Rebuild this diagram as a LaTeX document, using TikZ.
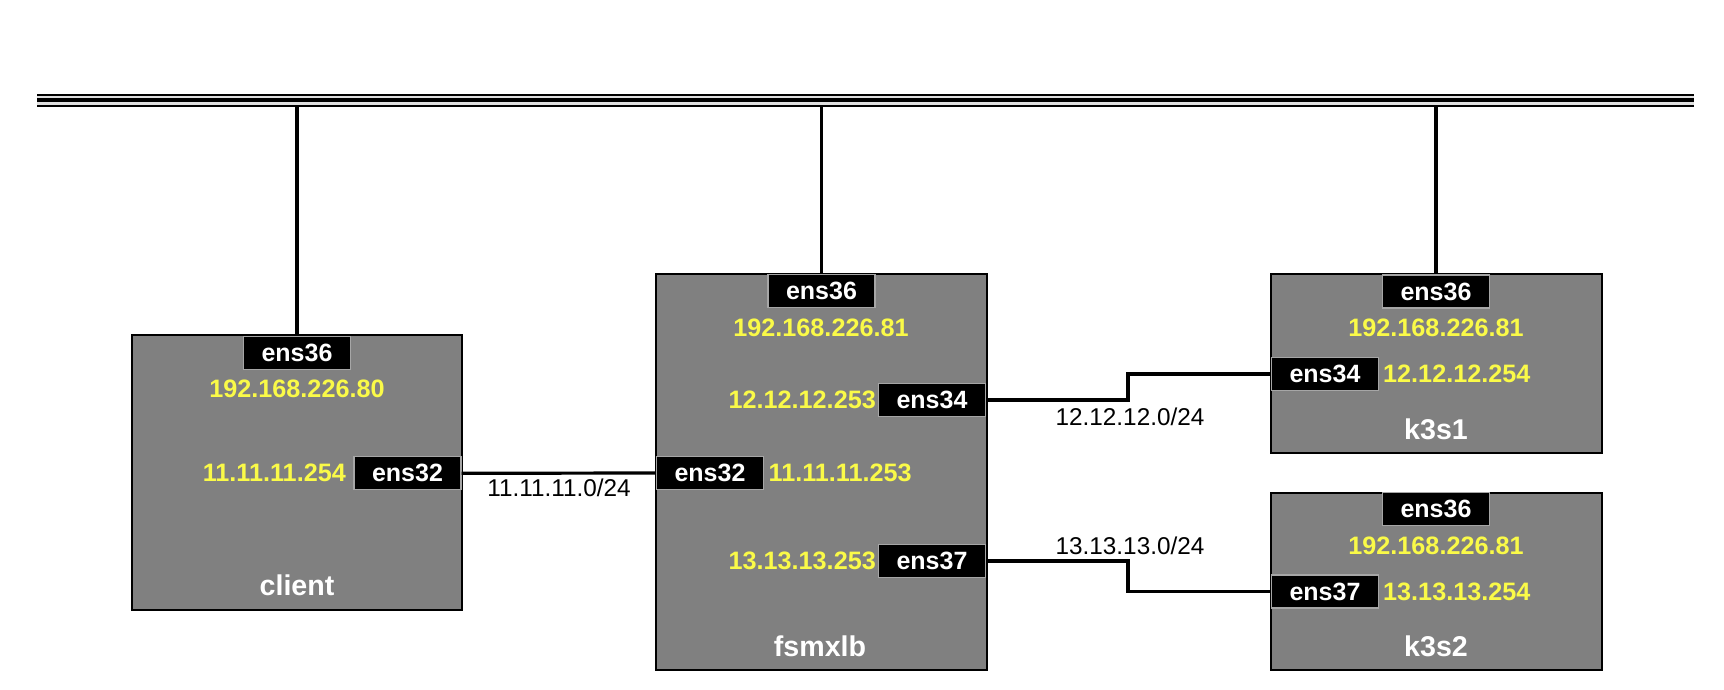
\documentclass[tikz,border=0pt]{standalone}
\usepackage{fontspec}
\setmainfont{Liberation Sans}
\begin{document}
\begin{tikzpicture}[x=1pt,y=-1pt,
  hostbox/.style={draw=black,line width=2pt,fill=hostgray,inner sep=0pt},
  iface/.style={fill=black,draw=gray!70,line width=1.2pt,text=white,inner sep=0pt,minimum width=107pt,minimum height=33pt,font=\fontsize{25}{28}\selectfont\bfseries},
  ip/.style={text=ipyellow,inner sep=0pt,font=\fontsize{25.2}{28}\selectfont\bfseries},
  hostname/.style={text=white,inner sep=0pt,font=\fontsize{28.6}{31}\selectfont\bfseries},
  subnet/.style={text=black,inner sep=0pt,font=\fontsize{24.3}{27}\selectfont},
  wire/.style={draw=black,line width=3.2pt},
  drop/.style={draw=black,line width=3.8pt}]
\definecolor{hostgray}{RGB}{128,128,128}
\definecolor{ipyellow}{RGB}{250,250,72}
\useasboundingbox (0,0) rectangle (1724,690);
% bus
\fill[gray!25] (37,93.7) rectangle (1694,106.7);
\draw[black,line width=2pt] (37,94.7) -- (1694,94.7);
\draw[black,line width=4.6pt] (37,100.2) -- (1694,100.2);
\draw[black,line width=2pt] (37,105.7) -- (1694,105.7);
\coordinate (busC) at (297,106);
\coordinate (busF) at (821.5,106);
\coordinate (busK) at (1436,106);
% hosts
\node[hostbox,minimum width=330pt,minimum height=274.5pt] (client) at (297,472.3) {};
\node[hostbox,minimum width=330.5pt,minimum height=395.5pt] (fsmxlb) at (821.25,471.75) {};
\node[hostbox,minimum width=331pt,minimum height=179pt] (k3s1) at (1436.5,363.5) {};
\node[hostbox,minimum width=331pt,minimum height=177pt] (k3s2) at (1436.5,581.1) {};
% client
\node[iface] (c36) at (297,353) {ens36};
\node[ip] (cip1) at (297,389) {192.168.226.80};
\node[iface] (c32) at (407.5,473.3) {ens32};
\node[ip,anchor=east] (cip2) at (346,473.3) {11.11.11.254};
\node[hostname] (cname) at (297,585) {client};
% fsmxlb
\node[iface] (f36) at (821.5,291.3) {ens36};
\node[ip] (fip1) at (821,328.3) {192.168.226.81};
\node[iface] (f34) at (932,400) {ens34};
\node[ip,anchor=east] (fip2) at (876,399.5) {12.12.12.253};
\node[iface] (f32) at (710,473) {ens32};
\node[ip,anchor=west] (fip3) at (768.5,473) {11.11.11.253};
\node[iface] (f37) at (932,561) {ens37};
\node[ip,anchor=east] (fip4) at (876,560.5) {13.13.13.253};
\node[hostname] (fname) at (820,646.7) {fsmxlb};
% k3s1
\node[iface] (k136) at (1436,291.5) {ens36};
\node[ip] (k1ip1) at (1436,327.6) {192.168.226.81};
\node[iface] (k134) at (1325,374) {ens34};
\node[ip,anchor=west] (k1ip2) at (1383,374) {12.12.12.254};
\node[hostname] (k1name) at (1436,429) {k3s1};
% k3s2
\node[iface] (k236) at (1436,509) {ens36};
\node[ip] (k2ip1) at (1436,545.4) {192.168.226.81};
\node[iface] (k237) at (1325,591.5) {ens37};
\node[ip,anchor=west] (k2ip2) at (1383,591.5) {13.13.13.254};
\node[hostname] (k2name) at (1436,646.5) {k3s2};
% drops
\draw[drop] (busC) -- (c36.north);
\draw[drop] (busF) -- (f36.north);
\draw[drop] (busK) -- (k136.north);
% links
\coordinate (mid) at (1128,0);
\draw[wire] (c32.east) -- (f32.west);
\draw[wire] (f34.east) -- (f34.east -| mid) |- (k134.west);
\draw[wire] (f37.east) -- (f37.east -| mid) |- (k237.west);
\node[subnet] (n11) at (559,488) {11.11.11.0/24};
\node[subnet] (n12) at (1130,416.7) {12.12.12.0/24};
\node[subnet] (n13) at (1130,545.4) {13.13.13.0/24};
\end{tikzpicture}
\end{document}
